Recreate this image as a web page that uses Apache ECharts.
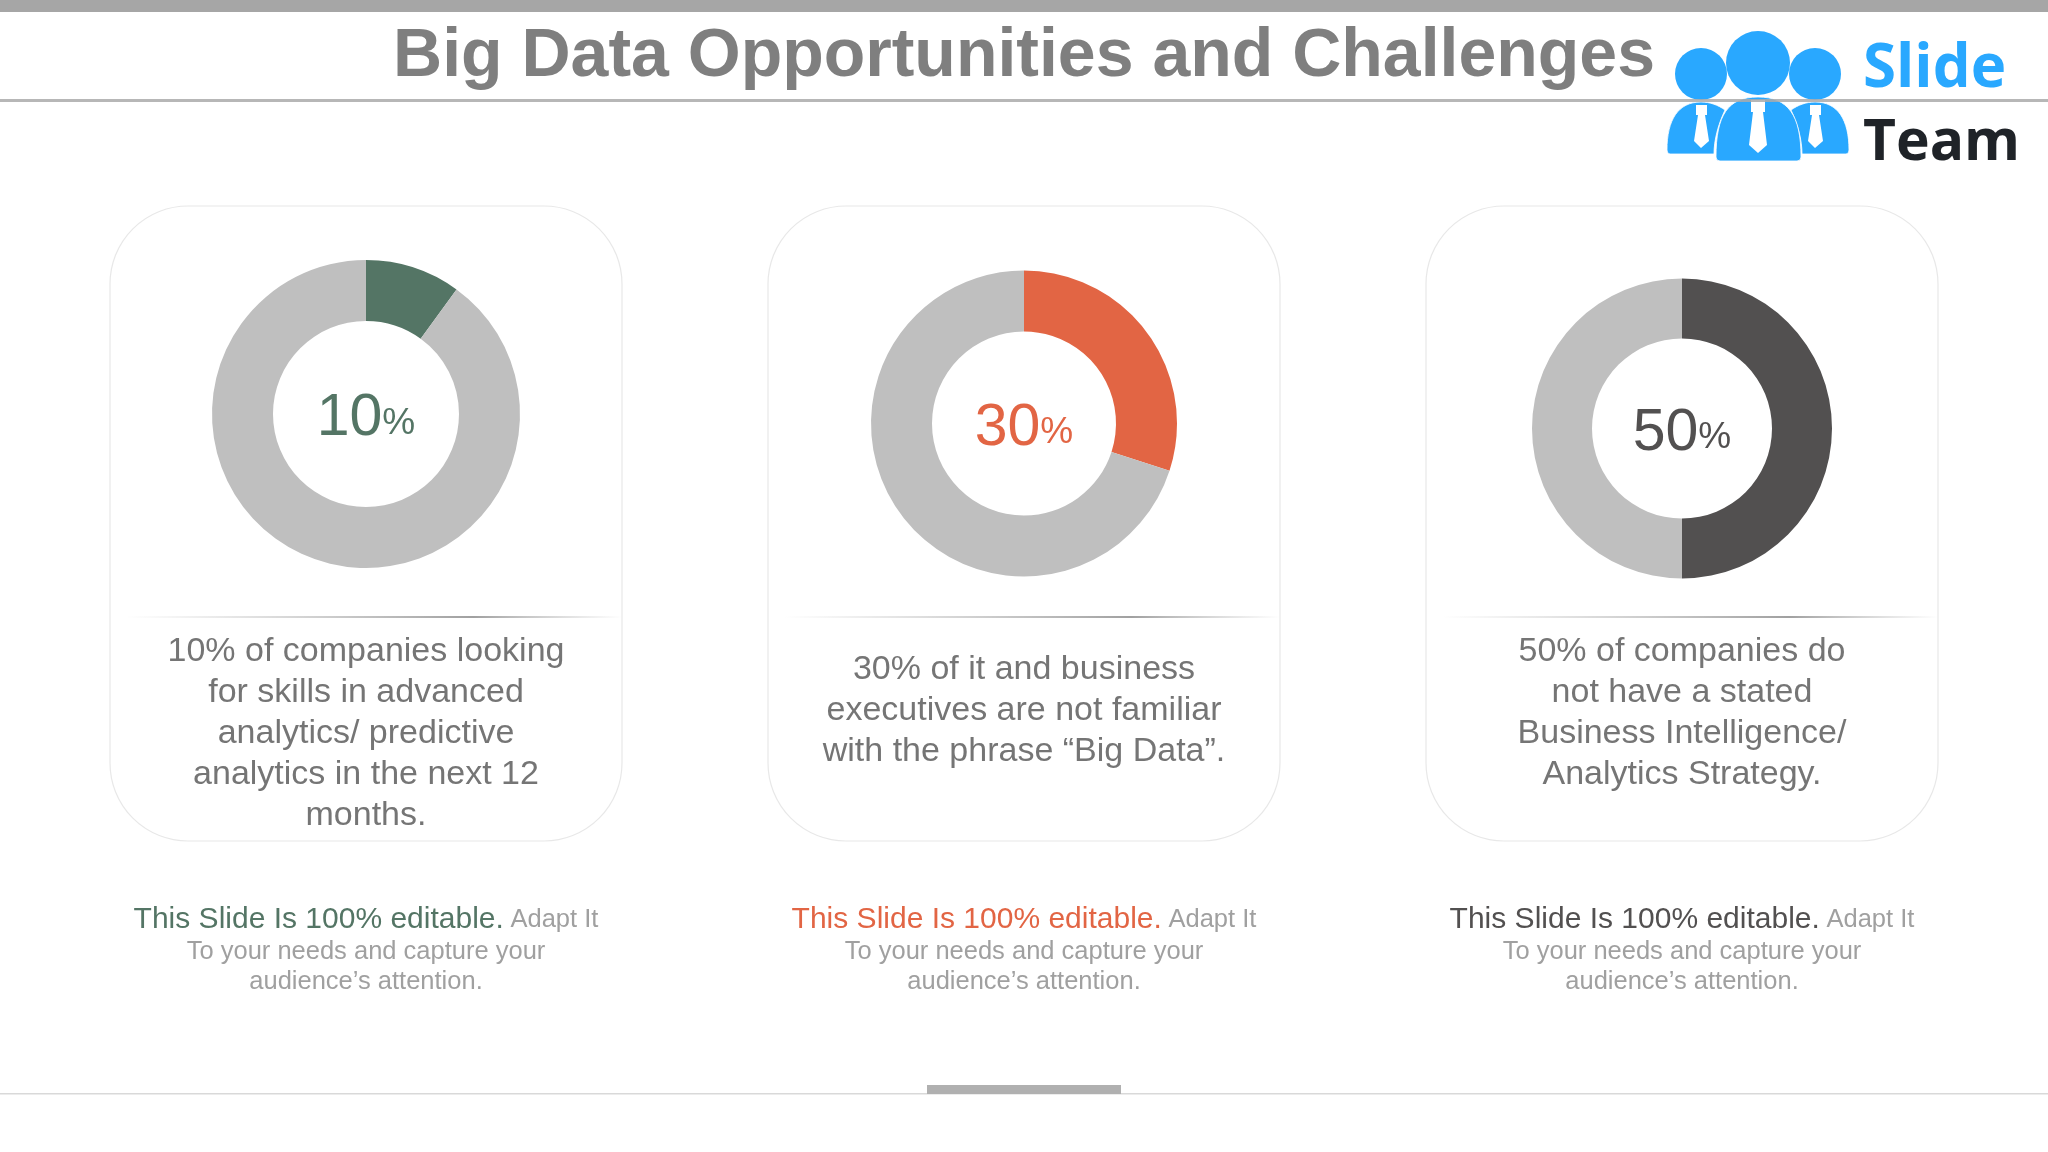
<!DOCTYPE html>
<html>
<head>
<meta charset="utf-8">
<title>Big Data Opportunities and Challenges</title>
<style>
html, body { margin: 0; padding: 0; background: #fff; }
#chart { width: 2048px; height: 1152px; }
</style>
<script src="https://cdn.jsdelivr.net/npm/echarts@6/dist/echarts.min.js"></script>
</head>
<body>
<div id="chart"></div>
<script>
var titleText = 'Big Data Opportunities and Challenges';
var percents = [10, 30, 50];
var descriptions = [
    ['10% of companies looking', 'for skills in advanced', 'analytics/ predictive', 'analytics in the next 12', 'months.'],
    ['30% of it and business', 'executives are not familiar', 'with the phrase \u201cBig Data\u201d.'],
    ['50% of companies do', 'not have a stated', 'Business Intelligence/', 'Analytics Strategy.']
];
var noteHead = 'This Slide Is 100% editable.';
var noteTail = ['Adapt It', 'To your needs and capture your', 'audience\u2019s attention.'];

// layout, px on the 2048x1152 slide
var FONT = '"Liberation Sans", Arial, sans-serif';
var colors = ['#547565', '#e26544', '#525050'];
var GREY = '#bfbfbf';
var cardX = [110, 768, 1426];
var CARD_W = 512;
var donuts = [
    { cx: 366, cy: 414, r: 154, inner: 93 },
    { cx: 1024, cy: 423.5, r: 153, inner: 92 },
    { cx: 1682, cy: 428.5, r: 150, inner: 90 }
];
var descTop = [652, 670, 652];

var chart = echarts.init(document.getElementById('chart'));

var elements = [];

// cards, dividers, texts
percents.forEach(function (p, i) {
    var x = cardX[i], mid = x + CARD_W / 2;
    elements.push({
        type: 'rect', silent: true,
        shape: { x: x, y: 206, width: CARD_W, height: 635, r: 78 },
        style: { fill: '#fff', stroke: '#e8e8e8', lineWidth: 1.2 }
    });
    elements.push({
        type: 'rect', silent: true,
        shape: { x: x + 16, y: 616, width: CARD_W - 16, height: 2 },
        style: {
            fill: new echarts.graphic.LinearGradient(0, 0, 1, 0, [
                { offset: 0, color: 'rgba(170,170,170,0)' },
                { offset: 0.7, color: 'rgba(150,150,150,0.9)' },
                { offset: 1, color: 'rgba(170,170,170,0)' }
            ])
        }
    });
    descriptions[i].forEach(function (line, k) {
        elements.push({
            type: 'text', silent: true, z: 5,
            style: {
                text: line, x: mid, y: descTop[i] + k * 41, align: 'center', verticalAlign: 'middle',
                font: '34px ' + FONT, fill: '#757575'
            }
        });
    });
    elements.push({
        type: 'text', silent: true, z: 5,
        style: {
            x: mid, y: 950, align: 'center', verticalAlign: 'middle',
            text: '{a|' + noteHead + '}  {b|' + noteTail[0] + '}\n{c|' + noteTail[1] + '}\n{c|' + noteTail[2] + '}',
            rich: {
                a: { font: '30px ' + FONT, fill: colors[i], lineHeight: 34 },
                b: { font: '25.5px ' + FONT, fill: '#a0a0a0', lineHeight: 34 },
                c: { font: '25.5px ' + FONT, fill: '#a0a0a0', lineHeight: 30 }
            }
        }
    });
});

// logo
var BLUE = '#29a8ff';
var logoBodies = [
    'M1670 154 Q1667 154 1667 150 C1667 120 1678 102 1701 102 C1710 102 1718 105 1725 110 C1718 125 1714 140 1714 154 Z',
    'M1846 154 Q1849 154 1849 150 C1849 120 1838 102 1815 102 C1806 102 1798 105 1791 110 C1798 125 1802 140 1802 154 Z',
    'M1720 161 Q1716 161 1716 157 C1716 115 1728 97 1758 97 C1788 97 1801 115 1801 157 Q1801 161 1797 161 Z'
];
var logoTies = [
    'M1696 105 H1707 V115 H1705 L1709 141 L1701 148 L1694 141 L1698 115 H1696 Z',
    'M1810 105 H1821 V115 H1819 L1823 141 L1815 148 L1808 141 L1812 115 H1810 Z',
    'M1751 100 H1765 V112 H1763 L1767 145 L1758 153 L1749 145 L1753 112 H1751 Z'
];
logoBodies.concat(logoTies).forEach(function (d, i) {
    echarts.graphic.registerShape('logoPart' + i, echarts.graphic.extendPath(d, {}));
});
[[1701, 74, 26], [1815, 74, 26], [1758, 63, 32]].forEach(function (h) {
    elements.push({ type: 'circle', silent: true, z: 2, shape: { cx: h[0], cy: h[1], r: h[2] }, style: { fill: BLUE } });
});
logoBodies.forEach(function (d, i) {
    elements.push({ type: 'logoPart' + i, silent: true, z: 2, style: { fill: BLUE, stroke: '#fff', lineWidth: 0.8 } });
});
logoTies.forEach(function (d, i) {
    elements.push({ type: 'logoPart' + (i + logoBodies.length), silent: true, z: 3, style: { fill: '#fff' } });
});
elements.push({
    type: 'text', silent: true, z: 3,
    style: { text: 'Slide', x: 1863, y: 70, verticalAlign: 'middle', font: 'bold 60px "Open Sans", sans-serif', fill: BLUE }
});
elements.push({
    type: 'text', silent: true, z: 3,
    style: { text: 'Team', x: 1863, y: 144, verticalAlign: 'middle', font: 'bold 57px "Open Sans", sans-serif', fill: '#1f2328' }
});

// header and footer furniture
elements.push({ type: 'rect', silent: true, shape: { x: 0, y: 0, width: 2048, height: 12 }, style: { fill: '#a6a6a6' } });
elements.push({ type: 'rect', silent: true, z: 4, shape: { x: 0, y: 99, width: 2048, height: 3 }, style: { fill: 'rgba(170,170,170,0.85)' } });
elements.push({ type: 'rect', silent: true, shape: { x: 0, y: 1093, width: 2048, height: 1.5 }, style: { fill: '#d9d9d9' } });
elements.push({ type: 'rect', silent: true, shape: { x: 927, y: 1085, width: 194, height: 9 }, style: { fill: '#b0b0b0' } });
elements.push({
    type: 'text', silent: true, z: 5,
    style: { text: titleText, x: 1024, y: 57, align: 'center', verticalAlign: 'middle', font: 'bold 68px ' + FONT, fill: '#7f7f7f' }
});

var series = percents.map(function (p, i) {
    var d = donuts[i];
    return {
        type: 'pie',
        silent: true,
        z: 10,
        center: [d.cx, d.cy],
        radius: [d.inner, d.r],
        startAngle: 90,
        clockwise: true,
        animation: false,
        labelLine: { show: false },
        label: { show: false },
        data: [
            {
                value: p,
                name: p + '%',
                itemStyle: { color: colors[i] },
                label: {
                    show: true,
                    position: 'center',
                    offset: [0, 5],
                    formatter: '{n|' + p + '}{u|%}',
                    rich: {
                        n: { fontFamily: FONT, fontSize: 59, color: colors[i] },
                        u: { fontFamily: FONT, fontSize: 37, color: colors[i], padding: [9, 0, 0, 0] }
                    }
                }
            },
            { value: 100 - p, name: 'rest', itemStyle: { color: GREY } }
        ]
    };
});

chart.setOption({
    backgroundColor: '#fff',
    animation: false,
    graphic: { elements: elements },
    series: series
});
</script>
</body>
</html>
